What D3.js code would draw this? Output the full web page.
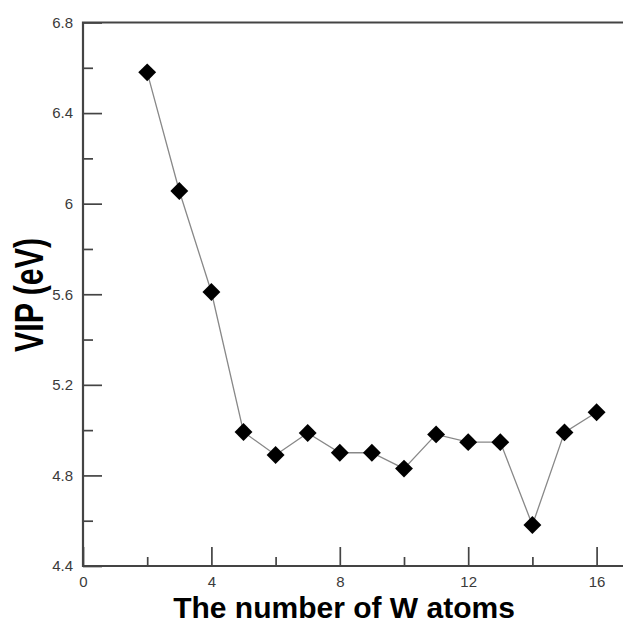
<!DOCTYPE html>
<html>
<head>
<meta charset="utf-8">
<script src="https://cdn.jsdelivr.net/npm/d3@7"></script>
<style>
  body { margin: 0; background: #fff; }
  svg { display: block; }
  .tick text { font-family: Arial, "Liberation Sans", sans-serif; fill: #3a3a3a; }
</style>
</head>
<body>
<div id="chart"></div>
<script>
// W atom count vs vertical ionization potential
var atoms = [2, 3, 4, 5, 6, 7, 8, 9, 10, 11, 12, 13, 14, 15, 16];
var vip = [6.58, 6.056, 5.61, 4.992, 4.89, 4.987, 4.9, 4.9, 4.83, 4.981, 4.947, 4.947, 4.581, 4.99, 5.079];
var xTickLabels = [0, 4, 8, 12, 16];
var yTickLabels = [4.4, 4.8, 5.2, 5.6, 6, 6.4, 6.8];

var width = 623, height = 624;
var margin = {top: 22.5, left: 83, bottom: 58};

var svg = d3.select('#chart').append('svg')
  .attr('width', width)
  .attr('height', height);

var x = d3.scaleLinear().domain([0, 16.85]).range([margin.left, margin.left + 16.85 * 32.1]);
var y = d3.scaleLinear().domain([4.4, 6.8]).range([height - margin.bottom, margin.top]);

var axisColor = '#444';

// minor ticks first (no labels)
svg.append('g')
  .attr('transform', 'translate(0,' + y(4.4) + ')')
  .call(d3.axisBottom(x).tickValues(d3.range(2, 17, 4)).tickSize(-9).tickFormat(''))
  .call(function(g) { g.select('.domain').remove(); })
  .selectAll('line').attr('stroke', axisColor).attr('stroke-width', 1.7);

svg.append('g')
  .attr('transform', 'translate(' + x(0) + ',0)')
  .call(d3.axisLeft(y).tickValues([4.6, 5.0, 5.4, 5.8, 6.2, 6.6]).tickSize(-10).tickFormat(''))
  .call(function(g) { g.select('.domain').remove(); })
  .selectAll('line').attr('stroke', axisColor).attr('stroke-width', 1.7);

// major ticks with labels
var xAxis = svg.append('g')
  .attr('transform', 'translate(0,' + y(4.4) + ')')
  .call(d3.axisBottom(x).tickValues(xTickLabels).tickSize(-19).tickPadding(0).tickFormat(d3.format('d')));
xAxis.select('.domain').remove();
xAxis.selectAll('line').attr('stroke', axisColor).attr('stroke-width', 1.7);
xAxis.selectAll('text').style('font-size', '15px').attr('dy', '1.4em');

var yAxis = svg.append('g')
  .attr('transform', 'translate(' + x(0) + ',0)')
  .call(d3.axisLeft(y).tickValues(yTickLabels).tickSize(-19).tickPadding(10).tickFormat(function(d) { return d3.format('')(d); }));
yAxis.select('.domain').remove();
yAxis.selectAll('line').attr('stroke', axisColor).attr('stroke-width', 1.7);
yAxis.selectAll('text').style('font-size', '15px');

// frame: left, bottom, top
svg.append('path')
  .attr('d', 'M' + (width + 5) + ',' + y(6.8) + 'H' + x(0) + 'V' + y(4.4) + 'H' + (width + 5))
  .attr('fill', 'none')
  .attr('stroke', axisColor)
  .attr('stroke-width', 2.2);

// data line
var pts = atoms.map(function(a, i) { return [a, vip[i]]; });
svg.append('path')
  .datum(pts)
  .attr('fill', 'none')
  .attr('stroke', '#888')
  .attr('stroke-width', 1.3)
  .attr('d', d3.line().x(function(d) { return x(d[0]); }).y(function(d) { return y(d[1]); }));

svg.selectAll('.marker')
  .data(pts)
  .enter()
  .append('path')
  .attr('class', 'marker')
  .attr('d', d3.symbol().type(d3.symbolSquare).size(160))
  .attr('transform', function(d) { return 'translate(' + x(d[0]) + ',' + y(d[1]) + ') rotate(45)'; })
  .attr('fill', '#000');

// axis titles
svg.append('text')
  .attr('x', 344)
  .attr('y', 618)
  .attr('text-anchor', 'middle')
  .attr('font-family', 'Arial, "Liberation Sans", sans-serif')
  .attr('font-weight', 'bold')
  .attr('font-size', 30)
  .attr('fill', '#000')
  .text('The number of W atoms');

svg.append('text')
  .attr('transform', 'translate(43,295) rotate(-90) scale(0.74,1)')
  .attr('text-anchor', 'middle')
  .attr('font-family', 'Arial, "Liberation Sans", sans-serif')
  .attr('font-weight', 'bold')
  .attr('font-size', 41)
  .attr('fill', '#000')
  .text('VIP (eV)');
</script>
</body>
</html>
